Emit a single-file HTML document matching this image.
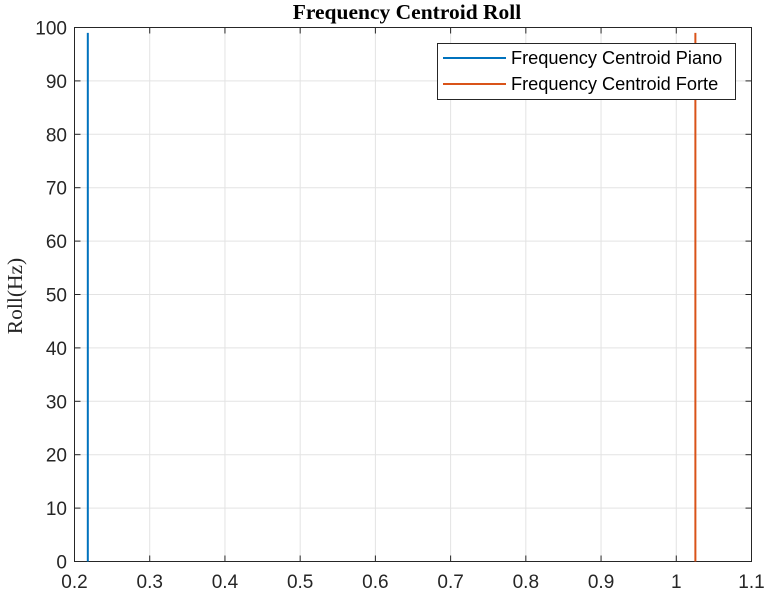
<!DOCTYPE html>
<html><head><meta charset="utf-8"><style>
body{margin:0;background:#fff;}
svg{display:block;font-family:"Liberation Sans",sans-serif;}
</style></head><body>
<svg id="chart" width="766" height="595">
<rect width="766" height="595" fill="#fff"/>
<text x="407" y="19" text-anchor="middle" font-family="Liberation Serif,serif" font-weight="bold" font-size="21.5" fill="#000">Frequency Centroid Roll</text>
<text transform="translate(22,296) rotate(-90)" text-anchor="middle" font-family="Liberation Serif,serif" font-size="21.5" fill="#262626">Roll(Hz)</text>
<g id="grid"></g><g id="axes"></g><g id="series"></g>
<g>
<rect x="437.5" y="43.5" width="298" height="56" fill="#fff" stroke="#262626"/>
<g><line x1="443" y1="58" x2="506" y2="58" stroke="#0072BD" stroke-width="2"/><text x="511" y="64" font-size="18.2" fill="#000">Frequency Centroid Piano</text></g>
<g><line x1="443" y1="84" x2="506" y2="84" stroke="#D95319" stroke-width="2"/><text x="511" y="90" font-size="18.2" fill="#000">Frequency Centroid Forte</text></g>
</g>
</svg>
<script>
const xTicks=[0.2,0.3,0.4,0.5,0.6,0.7,0.8,0.9,1,1.1];
const yTicks=[0,10,20,30,40,50,60,70,80,90,100];
const seriesNames=["Frequency Centroid Piano","Frequency Centroid Forte"];
const seriesColors=["#0072BD","#D95319"];
const pianoX=[0.2177,0.2177];
const pianoY=[0,99];
const forteX=[1.0254,1.0254];
const forteY=[0,99];
const L=74.5,R=751.5,T=27.5,B=561.5;
const xs=v=>L+(v-0.2)/(1.1-0.2)*(R-L);
const ys=v=>B-(v/100)*(B-T);
const NS="http://www.w3.org/2000/svg";
function mk(tag,attrs,parent){const e=document.createElementNS(NS,tag);for(const k in attrs)e.setAttribute(k,attrs[k]);document.getElementById(parent).appendChild(e);return e;}
xTicks.forEach(t=>{const x=xs(t);
 const g=mk('line',{x1:x,x2:x,y1:T,y2:B,stroke:'#e3e3e3','stroke-width':1},'grid');
 
 
 const tk=mk('line',{x1:x,x2:x,y1:B,y2:B-6,stroke:'#262626'},'axes');
 
 
 const tk2=mk('line',{x1:x,x2:x,y1:T,y2:T+6,stroke:'#262626'},'axes');
 
 
 const tx=mk('text',{x:x,y:588,'text-anchor':'middle','font-size':19,fill:'#262626'},'axes');
 tx.textContent=String(t);
 
 
});
yTicks.forEach(t=>{const y=ys(t);
 const g=mk('line',{x1:L,x2:R,y1:y,y2:y,stroke:'#e3e3e3','stroke-width':1},'grid');
 
 
 const tk=mk('line',{x1:L,x2:L+6,y1:y,y2:y,stroke:'#262626'},'axes');
 
 
 const tk2=mk('line',{x1:R,x2:R-6,y1:y,y2:y,stroke:'#262626'},'axes');
 
 
 const tx=mk('text',{x:67,y:y+7,'text-anchor':'end','font-size':19,fill:'#262626'},'axes');
 tx.textContent=String(t);
 
 
});
const box=mk('rect',{x:L,y:T,width:R-L,height:B-T,fill:'none',stroke:'#262626','stroke-width':1},'axes');


[[pianoX,pianoY,0],[forteX,forteY,1]].forEach(([X,Y,i])=>{
 const pts=X.map((v,j)=>xs(v)+','+ys(Y[j])).join(' ');
 const p=mk('polyline',{points:pts,fill:'none',stroke:seriesColors[i],'stroke-width':2},'series');
 
 
});
</script>
</body></html>
